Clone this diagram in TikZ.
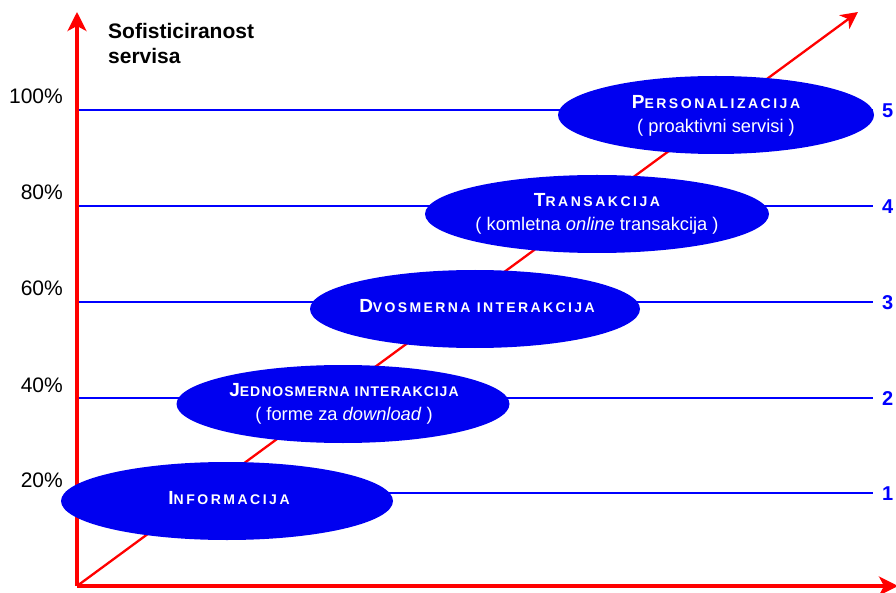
\documentclass[tikz,border=0pt]{standalone}
\usepackage{fontspec}
\setmainfont{Liberation Sans}
\usetikzlibrary{shapes.geometric,arrows.meta}
\definecolor{ellblue}{RGB}{0,0,240}
\definecolor{axred}{RGB}{255,0,0}
\definecolor{gridblue}{RGB}{0,0,255}
\newcommand\CapsTitle[3][18]{{\bfseries\addfontfeature{LetterSpace=#1}\fontsize{19}{20}\selectfont #2\fontsize{14}{15}\selectfont #3}}
\tikzset{
  ell/.style={ellipse, fill=ellblue, draw=none, inner sep=0pt, minimum height=78pt},
  etext/.style={text=white, align=center, inner sep=0pt, font=\fontsize{18.3}{24}\selectfont},
  gridline/.style={draw=gridblue, line width=1.2pt},
  axis/.style={draw=axred, line width=3.3pt, -{Stealth[length=19pt,width=19pt,inset=5pt]}},
  diag/.style={draw=axred, line width=2.3pt, -{Stealth[length=17pt,width=17pt,inset=5pt]}},
  pct/.style={anchor=base east, inner sep=0pt, font=\fontsize{21}{24}\selectfont},
  lvl/.style={anchor=west, inner sep=0pt, text=gridblue, font=\bfseries\fontsize{20}{24}\selectfont},
}
\begin{document}
\begin{tikzpicture}[x=1pt,y=-1pt]
\useasboundingbox (0,0) rectangle (896,593);
% axes
\coordinate (O) at (77,586);
\coordinate (Ytop) at (77,12);
\coordinate (Xend) at (898,586);
\coordinate (Dend) at (858,12);
% percent labels and level numbers
\node[pct] (p100) at (63,104) {100\%};
\node[pct] (p80) at (63,200) {80\%};
\node[pct] (p60) at (63,296) {60\%};
\node[pct] (p40) at (63,392) {40\%};
\node[pct] (p20) at (63,487) {20\%};
\node[lvl] (l5) at (882,111) {5};
\node[lvl] (l4) at (882,207) {4};
\node[lvl] (l3) at (882,303) {3};
\node[lvl] (l2) at (882,399) {2};
\node[lvl] (l1) at (882,494) {1};
\coordinate (g5) at (77,110);
\coordinate (g4) at (77,206);
\coordinate (g3) at (77,302);
\coordinate (g2) at (77,398);
\coordinate (g1) at (77,493);
\draw[gridline] (g5) -- (g5 -| 873,0);
\draw[gridline] (g4) -- (g4 -| 873,0);
\draw[gridline] (g3) -- (g3 -| 873,0);
\draw[gridline] (g2) -- (g2 -| 873,0);
\draw[gridline] (g1) -- (g1 -| 873,0);
% title
\node[anchor=base west, inner sep=0pt, align=left, font=\bfseries\fontsize{21}{25}\selectfont] (title) at (108,63.5) {Sofisticiranost\\servisa};
% diagonal and axes
\draw[diag] (O) -- (Dend);
\draw[axis] (O) -- (Ytop);
\draw[axis] (O) -- (Xend);
% ellipses
\node[ell, minimum width=316pt] (e5) at (716,115) {};
\node[etext] (t5) at (716,116) {\CapsTitle{P}{ERSONALIZACIJA}\\( proaktivni servisi )};
\node[ell, minimum width=344pt] (e4) at (597,214) {};
\node[etext] (t4) at (597,214) {\CapsTitle{T}{RANSAKCIJA}\\( komletna \textit{online} transakcija )};
\node[ell, minimum width=330pt] (e3) at (475,309) {};
\node[etext] (t3) at (477,306) {\CapsTitle[17]{D}{VOSMERNA INTERAKCIJA}};
\node[ell, minimum width=333pt] (e2) at (343,404) {};
\node[etext] (t2) at (344,404) {\CapsTitle[7]{J}{EDNOSMERNA INTERAKCIJA}\\( forme za \textit{download} )};
\node[ell, minimum width=332pt] (e1) at (227,501) {};
\node[etext] (t1) at (229,498) {\CapsTitle{I}{NFORMACIJA}};
\end{tikzpicture}
\end{document}
